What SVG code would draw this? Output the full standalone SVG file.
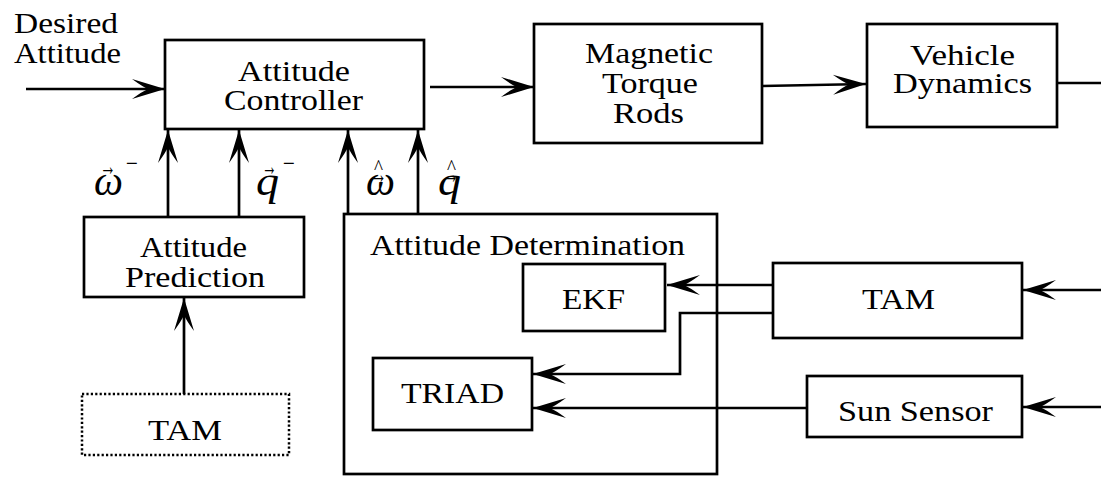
<svg xmlns="http://www.w3.org/2000/svg" width="1101" height="477" viewBox="0 0 1101 477">
<style>
.box{fill:#fff;stroke:#000;stroke-width:2.7}
.dot{fill:#fff;stroke:#000;stroke-width:2.5;stroke-dasharray:2.2 2.2}
.ln{fill:none;stroke:#000;stroke-width:2.7}
.arr{marker-end:url(#ah)}
.t{font-family:'Liberation Serif','Times New Roman',serif;font-size:30px}
.m{font-family:'Liberation Serif','Times New Roman',serif;font-style:italic;font-size:42px}
.acc{font-family:'Liberation Serif','Times New Roman',serif;font-size:26px}
.sup{font-family:'Liberation Serif','Times New Roman',serif;font-size:26px}
.hat{font-family:'Liberation Serif','Times New Roman',serif;font-size:20px}
</style>
<defs>
<marker id="ah" markerUnits="userSpaceOnUse" markerWidth="40" markerHeight="24" viewBox="-36 -12 40 24" refX="0" refY="0" orient="auto" overflow="visible">
<path d="M0,0 L-33,-10 Q-22,-2 -17,0 Q-22,2 -33,10 Z" fill="#000"/>
</marker>
</defs>
<g fill="#000">
<g id="desired-attitude">
<text class="t" x="14" y="33" textLength="104" lengthAdjust="spacingAndGlyphs">Desired</text>
<text class="t" x="14" y="63" textLength="107" lengthAdjust="spacingAndGlyphs">Attitude</text>
</g>
<g id="attitude-controller">
<rect class="box" x="165" y="40" width="259" height="89"/>
<text class="t" x="238" y="81" textLength="112" lengthAdjust="spacingAndGlyphs">Attitude</text>
<text class="t" x="224" y="110" textLength="139" lengthAdjust="spacingAndGlyphs">Controller</text>
</g>
<g id="magnetic-torque-rods">
<rect class="box" x="534" y="24" width="228" height="119"/>
<text class="t" x="585" y="63" textLength="128" lengthAdjust="spacingAndGlyphs">Magnetic</text>
<text class="t" x="602" y="93" textLength="96" lengthAdjust="spacingAndGlyphs">Torque</text>
<text class="t" x="613" y="123" textLength="71" lengthAdjust="spacingAndGlyphs">Rods</text>
</g>
<g id="vehicle-dynamics">
<rect class="box" x="867" y="24" width="190" height="103"/>
<text class="t" x="910" y="65" textLength="105" lengthAdjust="spacingAndGlyphs">Vehicle</text>
<text class="t" x="893" y="93" textLength="139" lengthAdjust="spacingAndGlyphs">Dynamics</text>
</g>
<g id="attitude-prediction">
<rect class="box" x="84" y="217" width="220" height="80"/>
<text class="t" x="140" y="257" textLength="107" lengthAdjust="spacingAndGlyphs">Attitude</text>
<text class="t" x="125" y="287" textLength="140" lengthAdjust="spacingAndGlyphs">Prediction</text>
</g>
<g id="tam-dotted">
<rect class="dot" x="82" y="394" width="207" height="61"/>
<text class="t" x="148" y="440" textLength="74" lengthAdjust="spacingAndGlyphs">TAM</text>
</g>
<g id="attitude-determination">
<rect class="box" x="344" y="214" width="373" height="260"/>
<text class="t" x="370" y="255" textLength="315" lengthAdjust="spacingAndGlyphs">Attitude Determination</text>
</g>
<g id="ekf">
<rect class="box" x="523" y="264" width="142" height="67"/>
<text class="t" x="562" y="309" textLength="63" lengthAdjust="spacingAndGlyphs">EKF</text>
</g>
<g id="triad">
<rect class="box" x="373" y="358" width="159" height="72"/>
<text class="t" x="401" y="403" textLength="103" lengthAdjust="spacingAndGlyphs">TRIAD</text>
</g>
<g id="tam">
<rect class="box" x="773" y="263" width="249" height="75"/>
<text class="t" x="862" y="309" textLength="73" lengthAdjust="spacingAndGlyphs">TAM</text>
</g>
<g id="sun-sensor">
<rect class="box" x="807" y="376" width="215" height="61"/>
<text class="t" x="838" y="421" textLength="155" lengthAdjust="spacingAndGlyphs">Sun Sensor</text>
</g>
<g id="labels">
<text class="m" x="94" y="195" textLength="29" lengthAdjust="spacingAndGlyphs">ω</text>
<text class="acc" x="100" y="175" textLength="16" lengthAdjust="spacingAndGlyphs">→</text>
<text class="sup" x="126" y="172" textLength="12" lengthAdjust="spacingAndGlyphs">−</text>
<text class="m" x="256" y="195" textLength="23" lengthAdjust="spacingAndGlyphs">q</text>
<text class="acc" x="262" y="175" textLength="15" lengthAdjust="spacingAndGlyphs">→</text>
<text class="sup" x="283" y="172" textLength="12" lengthAdjust="spacingAndGlyphs">−</text>
<text class="m" x="366" y="195" textLength="29" lengthAdjust="spacingAndGlyphs">ω</text>
<text class="acc" x="370" y="183" textLength="17" lengthAdjust="spacingAndGlyphs">→</text>
<text class="hat" x="374" y="174" textLength="9" lengthAdjust="spacingAndGlyphs">^</text>
<text class="m" x="438" y="195" textLength="23" lengthAdjust="spacingAndGlyphs">q</text>
<text class="acc" x="443" y="183" textLength="16" lengthAdjust="spacingAndGlyphs">→</text>
<text class="hat" x="447" y="174" textLength="9" lengthAdjust="spacingAndGlyphs">^</text>
</g>
</g>
<g id="connectors">
<line class="ln arr" x1="26" y1="89" x2="165" y2="89"/>
<line class="ln arr" x1="430" y1="87" x2="534" y2="87"/>
<line class="ln arr" x1="762" y1="86" x2="866" y2="84"/>
<line class="ln" x1="1057" y1="83" x2="1101" y2="83"/>
<line class="ln arr" x1="1101" y1="290" x2="1023" y2="290"/>
<line class="ln arr" x1="1101" y1="407" x2="1023" y2="407"/>
<line class="ln arr" x1="773" y1="285" x2="667" y2="285"/>
<polyline class="ln arr" points="773,313 680,313 680,374 533,374"/>
<line class="ln arr" x1="807" y1="408" x2="533" y2="408"/>
<line class="ln arr" x1="168" y1="217" x2="168" y2="130"/>
<line class="ln arr" x1="239" y1="217" x2="239" y2="130"/>
<line class="ln arr" x1="348" y1="214" x2="348" y2="130"/>
<line class="ln arr" x1="418" y1="214" x2="418" y2="130"/>
<line class="ln arr" x1="184" y1="394" x2="184" y2="298"/>
</g>
</svg>
